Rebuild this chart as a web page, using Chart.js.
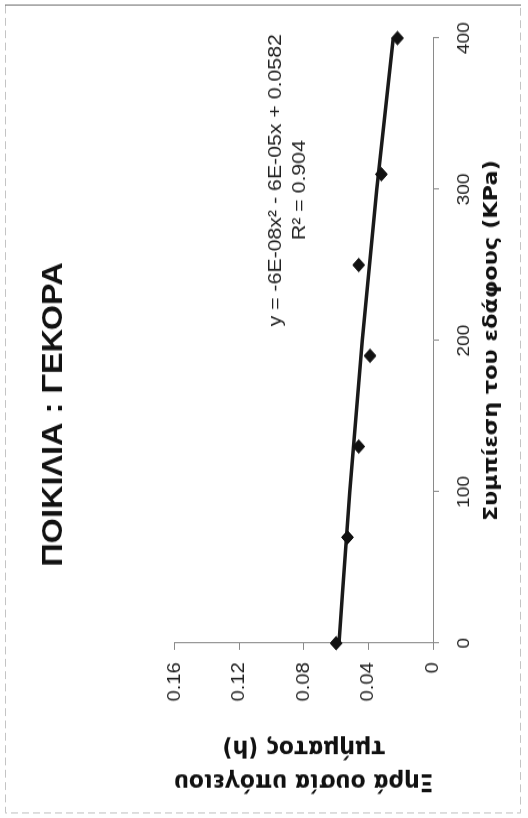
<!DOCTYPE html>
<html>

<head>
    <meta charset="utf-8" />
    <title>ΠΟΙΚΙΛΙΑ : ΓΕΚΟΡΑ</title>
    <style>
        html,
        body {
            margin: 0;
            padding: 0;
            background: #fff;
        }

        body {
            width: 528px;
            height: 818px;
            overflow: hidden;
            position: relative;
        }

        /* the sheet is printed sideways: draw it upright, then turn it */
        #frame {
            position: absolute;
            left: 0;
            top: 0;
            width: 730px;
            height: 528px;
            transform-origin: 0 0;
            transform: translateY(818px) rotate(-90deg) scaleX(1.1205);
        }
    </style>
    <script src="https://cdn.jsdelivr.net/npm/chart.js"></script>
</head>

<body>
    <div id="frame">
        <canvas id="chartGekora" width="730" height="528"></canvas>
    </div>

    <script>
        // measured points
        const pressure = [0, 70, 130, 190, 250, 310, 400];
        const dryMatter = [0.060, 0.053, 0.046, 0.039, 0.046, 0.032, 0.022];

        // polynomial trend line
        const trendPressure = [0, 100, 200, 300, 400];
        const trendDryMatter = [0.0582, 0.0516, 0.0438, 0.0348, 0.0246];

        const xTicks = [0, 100, 200, 300, 400];
        const yTicks = [0, 0.04, 0.08, 0.12, 0.16];

        const equationLines = ['y = -6E-08x² - 6E-05x + 0.0582', 'R² = 0.904'];
        const equationX = [306, 299.5];
        const equationY = [0.0974, 0.0825];

        const ARIAL = "'Liberation Sans', Arial, sans-serif";
        const TITLE_FONT = "'DejaVu Sans', Tahoma, sans-serif";

        const sheet = {
            id: 'sheet',
            beforeDraw(chart) {
                const { ctx, width, height } = chart;
                ctx.save();
                ctx.fillStyle = '#fff';
                ctx.fillRect(0, 0, width, height);
                // outer frame of the chart area
                ctx.strokeStyle = '#c4c4c4';
                ctx.lineWidth = 1;
                ctx.setLineDash([7, 4]);
                ctx.beginPath();
                ctx.moveTo(width - 5, 5.5);
                ctx.lineTo(4.5, 5.5);
                ctx.lineTo(4.5, 520.5);
                ctx.lineTo(width - 5, 520.5);
                ctx.stroke();
                ctx.setLineDash([]);
                ctx.strokeStyle = '#777';
                ctx.beginPath();
                ctx.moveTo(width - 4.5, 5);
                ctx.lineTo(width - 4.5, 521);
                ctx.stroke();
                ctx.restore();
            },
            afterDatasetsDraw(chart) {
                const { ctx, scales: { x, y } } = chart;
                ctx.save();
                ctx.fillStyle = '#222';
                ctx.font = '19px ' + ARIAL;
                ctx.textAlign = 'center';
                ctx.textBaseline = 'middle';
                equationLines.forEach((t, i) => {
                    ctx.fillText(t, x.getPixelForValue(equationX[i]), y.getPixelForValue(equationY[i]));
                });
                ctx.restore();
            }
        };

        new Chart(document.getElementById('chartGekora'), {
            type: 'scatter',
            data: {
                datasets: [{
                    label: 'Ξηρά ουσία',
                    data: pressure.map((p, i) => ({ x: p, y: dryMatter[i] })),
                    pointStyle: 'rectRot',
                    pointRadius: 6,
                    backgroundColor: '#111',
                    borderColor: '#111',
                    borderWidth: 1,
                    clip: false,
                    order: 0
                }, {
                    label: 'Trend',
                    type: 'line',
                    data: trendPressure.map((p, i) => ({ x: p, y: trendDryMatter[i] })),
                    borderColor: '#1a1a1a',
                    borderWidth: 3.5,
                    pointRadius: 0,
                    cubicInterpolationMode: 'monotone',
                    fill: false,
                    clip: false,
                    order: 1
                }]
            },
            options: {
                responsive: false,
                animation: false,
                layout: { padding: { left: 24, right: 34, top: 0, bottom: 0 } },
                scales: {
                    x: {
                        type: 'linear',
                        min: 0,
                        max: 400,
                        afterBuildTicks: s => { s.ticks = xTicks.map(v => ({ value: v })); },
                        afterFit: s => { s.height = 95; },
                        border: { color: '#8a8a8a', width: 1 },
                        grid: { drawOnChartArea: false, tickLength: 6, color: '#8a8a8a' },
                        ticks: { padding: 15, color: '#222', font: { family: ARIAL, size: 17 } },
                        title: {
                            display: true,
                            text: 'Συμπίεση του εδάφους (KPa)',
                            color: '#111',
                            font: { family: TITLE_FONT, size: 20, weight: 'bold' },
                            padding: { top: 0, bottom: 24 }
                        }
                    },
                    y: {
                        type: 'linear',
                        min: 0,
                        max: 0.16,
                        afterBuildTicks: s => { s.ticks = yTicks.map(v => ({ value: v })); },
                        afterFit: s => { s.width = 132; },
                        border: { color: '#8a8a8a', width: 1 },
                        grid: { drawOnChartArea: false, tickLength: 6, color: '#8a8a8a' },
                        ticks: {
                            padding: 11,
                            color: '#222',
                            font: { family: ARIAL, size: 18 },
                            callback: v => String(+v.toFixed(2))
                        },
                        title: {
                            display: true,
                            text: ['Ξηρά ουσία υπόγειου', 'τμήματος (h)'],
                            color: '#111',
                            font: { family: TITLE_FONT, size: 22, weight: 'bold', lineHeight: 1.34 },
                            padding: { top: -5, bottom: 0 }
                        }
                    }
                },
                plugins: {
                    legend: { display: false },
                    tooltip: { enabled: false },
                    title: {
                        display: true,
                        text: 'ΠΟΙΚΙΛΙΑ : ΓΕΚΟΡΑ',
                        color: '#111',
                        font: { family: ARIAL, size: 29, weight: 'bold', lineHeight: 1.2 },
                        padding: { top: 37, bottom: 103 }
                    }
                }
            },
            plugins: [sheet]
        });
    </script>
</body>

</html>
